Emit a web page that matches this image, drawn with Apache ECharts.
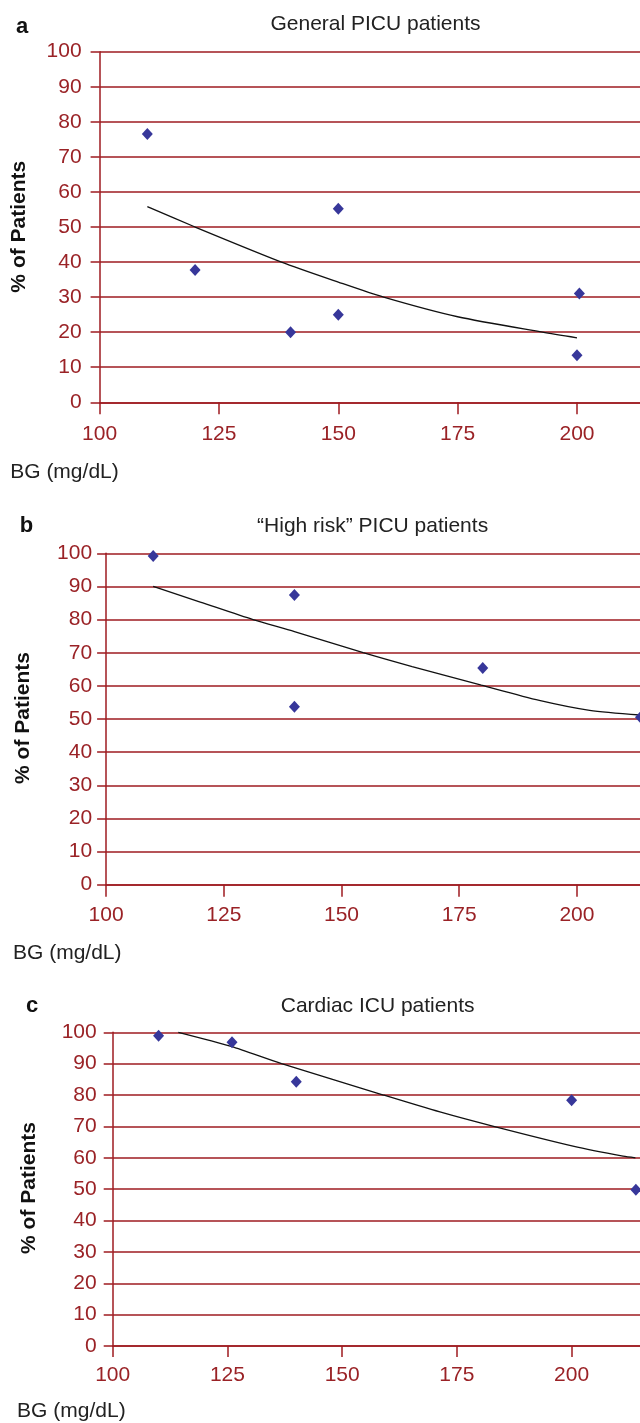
<!DOCTYPE html>
<html>
<head>
<meta charset="utf-8">
<script src="https://cdn.jsdelivr.net/npm/echarts@6/dist/echarts.min.js"></script>
<style>
html,body{margin:0;padding:0;background:#fff;}
#chart{width:640px;height:1423px;}
</style>
</head>
<body>
<div id="chart"></div>
<script>
// ---- Data ----
const xTickLabels = [100, 125, 150, 175, 200];

// Panel a: General PICU patients
const aBG  = [110, 120, 140, 150, 150, 200.5, 200];
const aPct = [76.5, 37.7, 20, 55.2, 25, 31, 13.4];
const aTrendBG  = [110, 120, 138.1, 150, 159.5, 175, 192.8, 200];
const aTrendPct = [55.8, 50, 40, 34.3, 30, 24.4, 20, 18.4];

// Panel b: "High risk" PICU patients
const bBG  = [110, 140, 140, 180, 213.5];
const bPct = [99.2, 87.4, 53.7, 65.4, 50.5];
const bTrendBG  = [110, 120, 131.2, 140, 154.6, 165, 179.7, 192, 202.7, 213.5];
const bTrendPct = [90, 85.3, 80, 76.4, 70, 65.8, 60.2, 55.6, 52.6, 51.2];

// Panel c: Cardiac ICU patients
const cBG  = [110, 126, 140, 200, 214];
const cPct = [98.9, 96.8, 84.2, 78.3, 49.8];
const cTrendBG  = [114.3, 125.8, 136.8, 159, 171.3, 183, 200.3, 211.2, 213.9];
const cTrendPct = [100, 95.5, 90, 80, 74.6, 70, 63.7, 60.5, 60];

// visible x range end (chart is cropped at the right edge)
const xMax = [213.2, 213.4, 214.9];

const panelLetters = ['a', 'b', 'c'];
const panelTitles = ['General PICU patients', '\u201CHigh risk\u201D PICU patients', 'Cardiac ICU patients'];
const yName = '% of Patients';
const xName = 'BG (mg/dL)';

// ---- Styles ----
const FONT = '"Liberation Sans", Arial, Helvetica, sans-serif';
const RED = '#9e1b20';
const LABEL = '#9a2226';
const DOT = '#37379a';

const zip = (xs, ys) => xs.map((x, i) => [x, ys[i]]);

const grids = [
  {left: 99.6, top: 51.7, right: 0, height: 350.6},
  {left: 106.1, top: 553.3, right: 0, height: 331.4},
  {left: 112.7, top: 1032.3, right: 0, height: 313.7}
];
const yLabelMargin = [18, 14, 16];
const xLabelMargin = [21, 20, 19];
const xTickLen = [12, 12, 11];

const xAxes = grids.map((g, i) => ({
  type: 'value', gridIndex: i, min: 100, max: xMax[i], interval: 25,
  axisLine: {show: true, lineStyle: {color: RED, width: 1.5}},
  axisTick: {show: true, length: xTickLen[i], lineStyle: {color: RED, width: 1.5}, customValues: xTickLabels},
  axisLabel: {color: LABEL, fontSize: 21, fontFamily: FONT, margin: xLabelMargin[i], customValues: xTickLabels,
    formatter: v => (xTickLabels.indexOf(v) >= 0 ? String(v) : '')},
  splitLine: {show: false}
}));
const yAxes = grids.map((g, i) => ({
  type: 'value', gridIndex: i, min: 0, max: 100, interval: 10,
  axisLine: {show: true, lineStyle: {color: RED, width: 1.5}},
  axisTick: {show: true, length: 9, lineStyle: {color: RED, width: 1.5}},
  axisLabel: {color: LABEL, fontSize: 21, fontFamily: FONT, margin: yLabelMargin[i]},
  splitLine: {show: true, lineStyle: {color: RED, width: 1.5}}
}));

const scatterData = [zip(aBG, aPct), zip(bBG, bPct), zip(cBG, cPct)];
const trendData = [zip(aTrendBG, aTrendPct), zip(bTrendBG, bTrendPct), zip(cTrendBG, cTrendPct)];

const series = [];
for (let i = 0; i < 3; i++) {
  series.push({
    type: 'line', xAxisIndex: i, yAxisIndex: i, data: trendData[i],
    smooth: 0.25, showSymbol: false, symbol: 'none',
    lineStyle: {color: '#111', width: 1.3}, clip: false, z: 3
  });
  series.push({
    type: 'scatter', xAxisIndex: i, yAxisIndex: i, data: scatterData[i],
    symbol: 'diamond', symbolSize: [11, 12], clip: false,
    itemStyle: {color: DOT, opacity: 1}, z: 4
  });
}

const letterPos = [[22, 27], [26.5, 525.5], [32, 1006]];
const titlePos = [[375.5, 24.6], [372.6, 526.2], [377.6, 1006.2]];
const yNamePos = [[19.3, 226.7], [23.5, 718], [29.6, 1188]];
const xNamePos = [[10.2, 472], [13, 953], [17.1, 1411]];

const graphics = [];
for (let i = 0; i < 3; i++) {
  graphics.push({type: 'text', x: letterPos[i][0], y: letterPos[i][1],
    style: {text: panelLetters[i], font: 'bold 22px ' + FONT, fill: '#111', textAlign: 'center', textVerticalAlign: 'middle'}});
  graphics.push({type: 'text', x: titlePos[i][0], y: titlePos[i][1],
    style: {text: panelTitles[i], font: '21px ' + FONT, fill: '#222', textAlign: 'center', textVerticalAlign: 'middle'}});
  graphics.push({type: 'text', x: yNamePos[i][0], y: yNamePos[i][1], rotation: Math.PI / 2,
    style: {text: yName, font: 'bold 21px ' + FONT, fill: '#111', textAlign: 'center', textVerticalAlign: 'middle'}});
  graphics.push({type: 'text', x: xNamePos[i][0], y: xNamePos[i][1],
    style: {text: xName, font: '21px ' + FONT, fill: '#222', textAlign: 'left', textVerticalAlign: 'middle'}});
}

const chart = echarts.init(document.getElementById('chart'), null, {renderer: 'canvas'});
chart.setOption({
  animation: false,
  backgroundColor: '#ffffff',
  grid: grids,
  xAxis: xAxes,
  yAxis: yAxes,
  series: series,
  graphic: graphics
});
</script>
</body>
</html>
